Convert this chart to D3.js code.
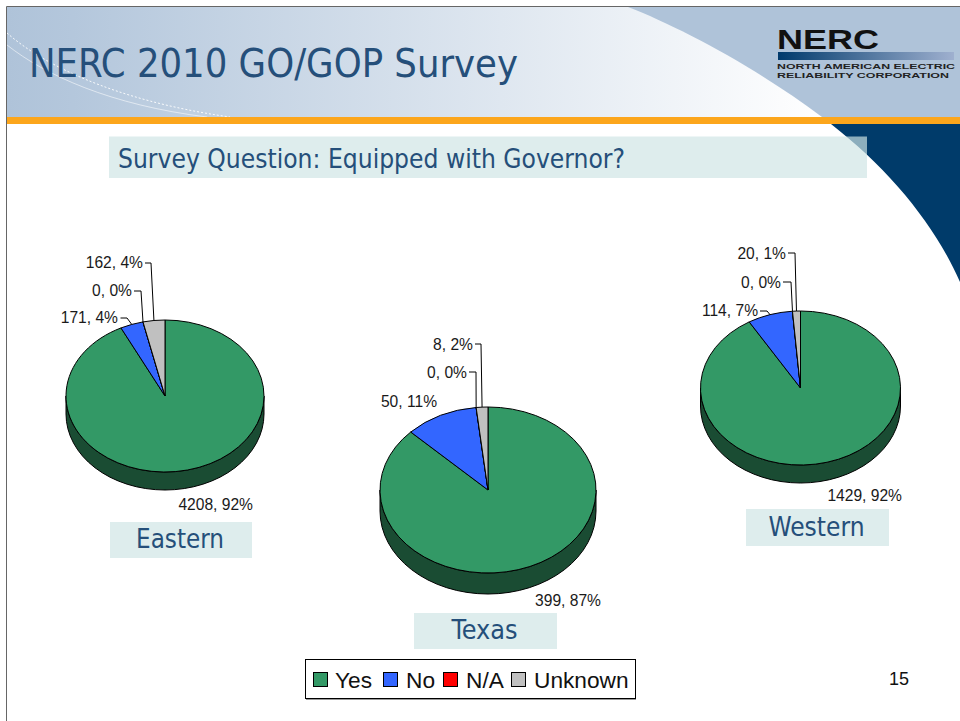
<!DOCTYPE html>
<html><head><meta charset="utf-8">
<script src="https://cdn.jsdelivr.net/npm/d3@7"></script>
<style>html,body{margin:0;padding:0;background:#fff}svg{display:block}
text{font-family:"Liberation Sans",Arial,sans-serif}
.ds{font-family:"DejaVu Sans",sans-serif;font-stretch:condensed}</style>
</head><body><div id="c"></div>
<script>
const categories=["Yes","No","N/A","Unknown"];
const regions=["Eastern","Texas","Western"];
const easternValues=[4208,171,0,162];
const texasValues=[399,50,0,8];
const westernValues=[1429,114,0,20];
const easternPercents=[92,4,0,4];
const texasPercents=[87,11,0,2];
const westernPercents=[92,7,0,1];
const pageNumber="15";
const titleText="NERC 2010 GO/GOP Survey";
const questionText="Survey Question: Equipped with Governor?";

const colors=d3.scaleOrdinal().domain(categories).range(["#339966","#3366ff","#ff0000","#c0c0c0"]);
const sideColor="#1a4c33";
// layout
const pieLayout=[
 {cx:165,cy:396,rx:99,ry:76,depth:18,box:[110,522,142,36],nameW:88,
  labels:[{x:253,y:504,a:"end"},{x:118,y:317.5,a:"end",lead:[[120.5,318],[127,318]]},{x:132,y:290.5,a:"end",lead:[[134,291],[141,291]]},{x:143,y:262.5,a:"end",lead:[[145,263],[151,263]]}]},
 {cx:488,cy:490,rx:108,ry:83,depth:21,box:[414,613,143,36],nameW:66,
  labels:[{x:601,y:600,a:"end"},{x:437,y:401,a:"end"},{x:467,y:372,a:"end",lead:[[469,372],[476,372]]},{x:473,y:344,a:"end",lead:[[475,344],[481,344]]}]},
 {cx:800.5,cy:388,rx:100,ry:77,depth:18,box:[746,509,143,37],nameW:96,
  labels:[{x:902,y:495,a:"end"},{x:758,y:310.5,a:"end",lead:[[760,311],[767,311]]},{x:781,y:282,a:"end",lead:[[783,282],[791,282]]},{x:786,y:253,a:"end",lead:[[788,253],[795,253]]}]}
];
const seriesValues=[easternValues,texasValues,westernValues];
const seriesPercents=[easternPercents,texasPercents,westernPercents];

const svg=d3.select("#c").append("svg").attr("width",960).attr("height",721);
const defs=svg.append("defs");
const g1=defs.append("linearGradient").attr("id","hdr");
g1.append("stop").attr("offset","0").attr("stop-color","#afc3d9");
g1.append("stop").attr("offset","0.08").attr("stop-color","#b4c7dc");
g1.append("stop").attr("offset","1").attr("stop-color","#ffffff");
const g2=defs.append("linearGradient").attr("id","bar");
g2.append("stop").attr("offset","0").attr("stop-color","#003a6c");
g2.append("stop").attr("offset","1").attr("stop-color","#9fb0cf");

// frame + header
svg.append("rect").attr("x",7).attr("y",7).attr("width",953).attr("height",110).attr("fill","#afc3d9");
svg.append("path").attr("d","M7,7H628C680,27 760,70 822,117H7Z").attr("fill","url(#hdr)");
svg.append("path").attr("d","M7,33C40,62 110,100 230,117").attr("fill","none").attr("stroke","#fff").attr("stroke-width",1).attr("stroke-dasharray","2 2").attr("opacity",.9);
svg.append("path").attr("d","M7,45C45,75 110,105 207,117").attr("fill","none").attr("stroke","#fff").attr("stroke-width",1).attr("opacity",.55);
svg.append("rect").attr("x",7).attr("y",117).attr("width",953).attr("height",7).attr("fill","#fca61c");
svg.append("path").attr("d","M831,124H960V282C935,225 890,170 831,124Z").attr("fill","#003b6a");
svg.append("path").attr("d","M6.5,721V6.5H960").attr("fill","none").attr("stroke","#666").attr("stroke-width",1);

// title
svg.append("text").attr("class","ds").attr("x",29).attr("y",77).attr("font-size",39.5).attr("fill","#254f7a").attr("textLength",489).attr("lengthAdjust","spacingAndGlyphs").text(titleText);
// question box
svg.append("rect").attr("x",109).attr("y",136.5).attr("width",758).attr("height",41.5).attr("fill","#cfe5e5").attr("opacity",.68);
svg.append("text").attr("class","ds").attr("x",118).attr("y",168).attr("font-size",26.5).attr("fill","#254f7a").attr("textLength",507).attr("lengthAdjust","spacingAndGlyphs").text(questionText);

// logo
svg.append("text").attr("x",777).attr("y",48.5).attr("font-size",28).attr("font-weight","bold").attr("fill","#111").attr("textLength",102).attr("lengthAdjust","spacingAndGlyphs").text("NERC");
svg.append("rect").attr("x",778).attr("y",52).attr("width",176).attr("height",8).attr("fill","url(#bar)");
svg.append("text").attr("x",777).attr("y",68.5).attr("font-size",8).attr("font-weight","bold").attr("fill","#222").attr("textLength",178).attr("lengthAdjust","spacingAndGlyphs").text("NORTH AMERICAN ELECTRIC");
svg.append("text").attr("x",777).attr("y",78).attr("font-size",8).attr("font-weight","bold").attr("fill","#222").attr("textLength",172).attr("lengthAdjust","spacingAndGlyphs").text("RELIABILITY CORPORATION");

// pies
const pie=d3.pie().sort(null).value(d=>d);
regions.forEach((name,i)=>{
  const L=pieLayout[i], vals=seriesValues[i], pct=seriesPercents[i];
  const g=svg.append("g");
  g.append("rect").attr("x",L.box[0]).attr("y",L.box[1]).attr("width",L.box[2]).attr("height",L.box[3]).attr("fill","#cfe5e5").attr("opacity",.68);
  g.append("text").attr("class","ds").attr("x",L.box[0]+L.box[2]/2-L.nameW/2-1).attr("y",L.box[1]+L.box[3]/2+8).attr("font-size",26.5).attr("fill","#254f7a").attr("textLength",L.nameW).attr("lengthAdjust","spacingAndGlyphs").text(name);
  g.append("path").attr("d",`M${L.cx-L.rx},${L.cy}v${L.depth}A${L.rx},${L.ry} 0 0 0 ${L.cx+L.rx},${L.cy+L.depth}V${L.cy}A${L.rx},${L.ry} 0 0 1 ${L.cx-L.rx},${L.cy}Z`)
    .attr("fill",sideColor).attr("stroke","#000").attr("stroke-width",1);
  const arc=d3.arc().innerRadius(0).outerRadius(L.rx);
  const arcs=pie(vals);
  g.append("g").attr("transform",`translate(${L.cx},${L.cy}) scale(1,${L.ry/L.rx})`)
   .selectAll("path").data(arcs).join("path").attr("d",arc)
   .attr("fill",(d,j)=>colors(categories[j])).attr("stroke","#000").attr("stroke-width",1).attr("vector-effect","non-scaling-stroke");
  arcs.forEach((d,j)=>{
    const lab=L.labels[j];
    g.append("text").attr("x",lab.x).attr("y",lab.y+5.5).attr("text-anchor",lab.a).attr("font-size",15.6).attr("fill","#1a1a1a").text(`${vals[j]}, ${pct[j]}%`);
    if(lab.lead){
      const m=(d.startAngle+d.endAngle)/2;
      const end=[L.cx+L.rx*Math.sin(m),L.cy-L.ry*Math.cos(m)];
      g.append("path").attr("d",d3.line()([...lab.lead,end])).attr("fill","none").attr("stroke","#000").attr("stroke-width",1);
    }
  });
});

// legend
const lg=svg.append("g");
lg.append("rect").attr("x",305.5).attr("y",659.5).attr("width",330).attr("height",39).attr("fill","#fff").attr("stroke","#000").attr("stroke-width",1);
lg.append("rect").attr("x",306).attr("y",699).attr("width",330).attr("height",1).attr("fill","#999");
const swatchX=[313,383,443,511], textX=[335,406,466,534];
categories.forEach((c,i)=>{
  lg.append("rect").attr("x",swatchX[i]+.5).attr("y",672.5).attr("width",14).attr("height",14).attr("fill",colors(c)).attr("stroke","#000").attr("stroke-width",1);
  lg.append("text").attr("x",textX[i]).attr("y",687.5).attr("font-size",22.7).attr("fill","#111").text(c);
});
svg.append("text").attr("x",889).attr("y",684.5).attr("font-size",18).attr("fill","#111").text(pageNumber);
</script></body></html>
